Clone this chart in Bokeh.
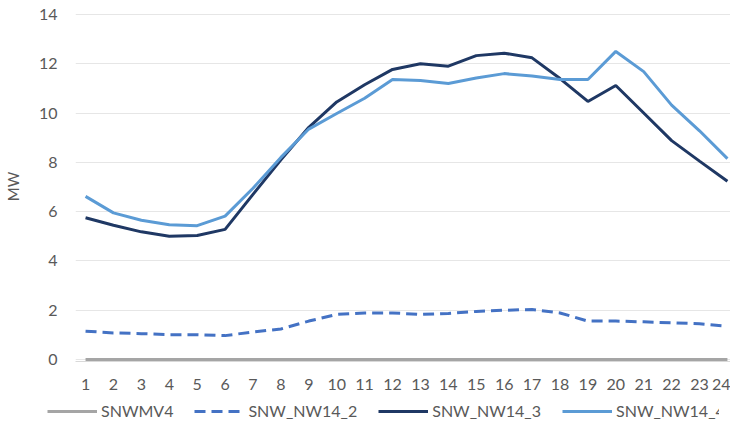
from bokeh.plotting import figure
from bokeh.layouts import column
from bokeh.models import Range1d, FixedTicker, Legend, LegendItem
from bokeh.embed import file_html
from bokeh.resources import INLINE

hours = [1, 2, 3, 4, 5, 6, 7, 8, 9, 10, 11, 12, 13, 14, 15, 16, 17, 18, 19, 20, 21, 22, 23, 24]
snwmv4 = [0, 0, 0, 0, 0, 0, 0, 0, 0, 0, 0, 0, 0, 0, 0, 0, 0, 0, 0, 0, 0, 0, 0, 0]
snw_nw14_2 = [1.15, 1.08, 1.05, 1.01, 1.01, 0.97, 1.12, 1.24, 1.56, 1.83, 1.89, 1.89,
              1.83, 1.87, 1.95, 2.0, 2.03, 1.89, 1.56, 1.56, 1.53, 1.49, 1.45, 1.35]
snw_nw14_3 = [5.75, 5.45, 5.18, 5.0, 5.03, 5.28, 6.7, 8.1, 9.42, 10.45, 11.15, 11.77,
              12.0, 11.9, 12.33, 12.43, 12.24, 11.4, 10.47, 11.12, 10.0, 8.88, 8.05, 7.23]
snw_nw14_4 = [6.62, 5.95, 5.65, 5.47, 5.43, 5.82, 6.95, 8.2, 9.35, 9.98, 10.6, 11.36,
              11.32, 11.2, 11.42, 11.6, 11.5, 11.36, 11.36, 12.5, 11.68, 10.32, 9.28, 8.15]
series_names = ["SNWMV4", "SNW_NW14_2", "SNW_NW14_3", "SNW_NW14_4"]
y_ticks = [0, 2, 4, 6, 8, 10, 12, 14]

FONT = "Lato"
TXT = "#595959"
styles = [dict(line_color="#A5A5A5", line_width=3),
          dict(line_color="#4472C4", line_width=3, line_dash="11 6"),
          dict(line_color="#1F3864", line_width=3),
          dict(line_color="#5B9BD5", line_width=3)]
data = [snwmv4, snw_nw14_2, snw_nw14_3, snw_nw14_4]

p = figure(frame_width=655, frame_height=350, output_backend="svg", toolbar_location=None,
           x_range=Range1d(0.64, 24.11), y_range=Range1d(-0.08, 14.12),
           min_border_left=64, min_border_right=0, min_border_top=11, min_border_bottom=0)
p.outline_line_color = None
p.xgrid.grid_line_color = None
p.ygrid.grid_line_color = "#E6E6E6"
p.ygrid.ticker = FixedTicker(ticks=y_ticks)

p.xaxis.ticker = FixedTicker(ticks=hours)
p.yaxis.ticker = FixedTicker(ticks=y_ticks)
for ax in (p.xaxis[0], p.yaxis[0]):
    ax.major_tick_line_color = None
    ax.minor_tick_line_color = None
    ax.major_tick_out = 0
    ax.major_tick_in = 0
    ax.major_label_text_font = FONT
    ax.major_label_text_font_size = "16px"
    ax.major_label_text_color = TXT
p.yaxis.axis_line_color = None
p.xaxis.axis_line_color = "#D9D9D9"
p.xaxis.major_label_standoff = 17
p.yaxis.major_label_standoff = 18
p.yaxis.axis_label = "MW"
p.yaxis.axis_label_text_font = FONT
p.yaxis.axis_label_text_font_size = "15px"
p.yaxis.axis_label_text_font_style = "normal"
p.yaxis.axis_label_text_color = TXT
p.yaxis.axis_label_standoff = 14

for ys, st in zip(data, styles):
    p.line(hours, ys, **st)

# legend strip below the chart
p2 = figure(frame_width=719, frame_height=30, output_backend="svg", toolbar_location=None,
            x_range=Range1d(100, 101), y_range=Range1d(100, 101),
            x_axis_location=None, y_axis_location=None,
            min_border_left=0, min_border_right=0, min_border_top=0, min_border_bottom=0)
p2.outline_line_color = None
p2.xgrid.visible = False
p2.ygrid.visible = False
items = []
for name, ys, st in zip(series_names, data, styles):
    r = p2.line(hours, ys, **st)
    items.append(LegendItem(label=name, renderers=[r]))
legend = Legend(items=items, orientation="horizontal", location=(47, 2),
                glyph_width=50, glyph_height=18, label_standoff=4, spacing=21,
                label_text_font=FONT, label_text_font_size="16px", label_text_color=TXT,
                border_line_color=None, background_fill_alpha=0, padding=0, margin=0)
p2.add_layout(legend, "center")

layout = column(p, p2, spacing=0)
open("out.html", "w").write(file_html(layout, INLINE))
